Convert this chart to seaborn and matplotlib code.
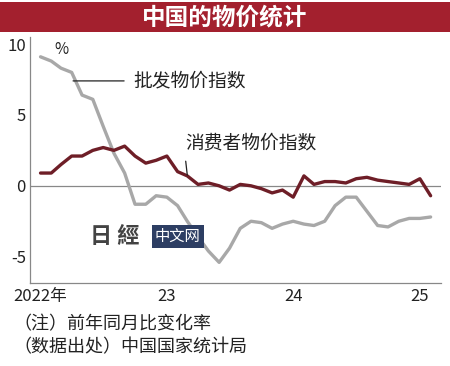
import pandas as pd
import seaborn as sns
import matplotlib.pyplot as plt
from matplotlib.patches import Rectangle

sns.set_theme(style="white")
plt.rcParams['font.family'] = ['Noto Sans CJK SC', 'DejaVu Sans']
plt.rcParams['axes.unicode_minus'] = False

# 数据: 2022年1月 ~ 2025年2月, 前年同月比 (%)
months = pd.date_range("2022-01-01", periods=38, freq="MS")
ppi = [9.1, 8.8, 8.3, 8.0, 6.4, 6.1, 4.2, 2.3, 0.9, -1.3, -1.3, -0.7,
       -0.8, -1.4, -2.5, -3.6, -4.6, -5.4, -4.4, -3.0, -2.5, -2.6, -3.0, -2.7,
       -2.5, -2.7, -2.8, -2.5, -1.4, -0.8, -0.8, -1.8, -2.8, -2.9, -2.5, -2.3,
       -2.3, -2.2]
cpi = [0.9, 0.9, 1.5, 2.1, 2.1, 2.5, 2.7, 2.5, 2.8, 2.1, 1.6, 1.8,
       2.1, 1.0, 0.7, 0.1, 0.2, 0.0, -0.3, 0.1, 0.0, -0.2, -0.5, -0.3,
       -0.8, 0.7, 0.1, 0.3, 0.3, 0.2, 0.5, 0.6, 0.4, 0.3, 0.2, 0.1,
       0.5, -0.7]
tick_dates = ["2022-01-01", "2023-01-01", "2024-01-01", "2025-01-01"]
tick_labels = ["2022年", "23", "24", "25"]

df = pd.DataFrame({"month": months, "ppi": ppi, "cpi": cpi})

fig = plt.figure(figsize=(4.5, 3.66), dpi=100)

# 标题栏
fig.patches.append(Rectangle((0, 0.912), 1, 0.083, transform=fig.transFigure,
                             facecolor="#a3202e", edgecolor="none", zorder=0))
fig.text(0.5, 0.952, "中国的物价统计", color="white", fontsize=17,
         fontweight="bold", ha="center", va="center")

ax = fig.add_axes([0.067, 0.227, 0.913, 0.672])
ax.axhline(0, color="#888888", lw=0.9, zorder=1)
sns.lineplot(data=df, x="month", y="ppi", ax=ax, color="#a8a8a8", lw=2.4, zorder=2)
sns.lineplot(data=df, x="month", y="cpi", ax=ax, color="#6e1e27", lw=2.4, zorder=3)

ax.set_xlim(pd.Timestamp("2021-12-02"), pd.Timestamp("2025-03-03"))
ax.set_ylim(-6.85, 10.5)
ax.set_yticks([10, 5, 0, -5])
ax.set_yticklabels(["10", "5", "0", "-5"])
ax.set_xticks(pd.to_datetime(tick_dates))
ax.set_xticklabels(tick_labels)
ax.set_xlabel("")
ax.set_ylabel("")
ax.tick_params(axis="both", direction="in", length=4, width=0.8, color="#888888",
               labelsize=12, labelcolor="#222222", pad=3)
ax.tick_params(axis="x", pad=4)
sns.despine(ax=ax)
for s in ["left", "bottom"]:
    ax.spines[s].set_color("#888888")
    ax.spines[s].set_linewidth(0.9)

ax.text(pd.Timestamp("2022-02-10"), 9.6, "%", fontsize=11, color="#222222", va="center")

# 批发物价指数 标注
ax.annotate("批发物价指数", xy=(pd.Timestamp("2022-04-05"), 7.4),
            xytext=(pd.Timestamp("2022-09-25"), 7.4), fontsize=13.5, color="#222222",
            va="center", arrowprops=dict(arrowstyle="-", color="#222222", lw=0.9,
                                         shrinkA=4, shrinkB=0))
# 消费者物价指数 标注
ax.annotate("消费者物价指数", xy=(pd.Timestamp("2023-03-01"), 0.75),
            xytext=(pd.Timestamp("2023-02-22"), 3.0), fontsize=13.5, color="#222222",
            va="center", ha="left",
            arrowprops=dict(arrowstyle="-", color="#222222", lw=0.9,
                            shrinkA=3, shrinkB=0, relpos=(0.0, 0)))

# 水印
fig.text(0.255, 0.355, "日 經", fontsize=16, fontweight="bold", color="#222222",
         ha="center", va="center", alpha=0.85)
fig.text(0.395, 0.355, "中文网", fontsize=11, color="white", ha="center", va="center",
         bbox=dict(boxstyle="square,pad=0.2", facecolor="#2d3e63", edgecolor="none"))

# 注释
fig.text(0.03, 0.115, "（注）前年同月比变化率", fontsize=13, color="#222222", va="center")
fig.text(0.03, 0.05, "（数据出处）中国国家统计局", fontsize=13, color="#222222", va="center")

fig.savefig("out.png", dpi=100)
